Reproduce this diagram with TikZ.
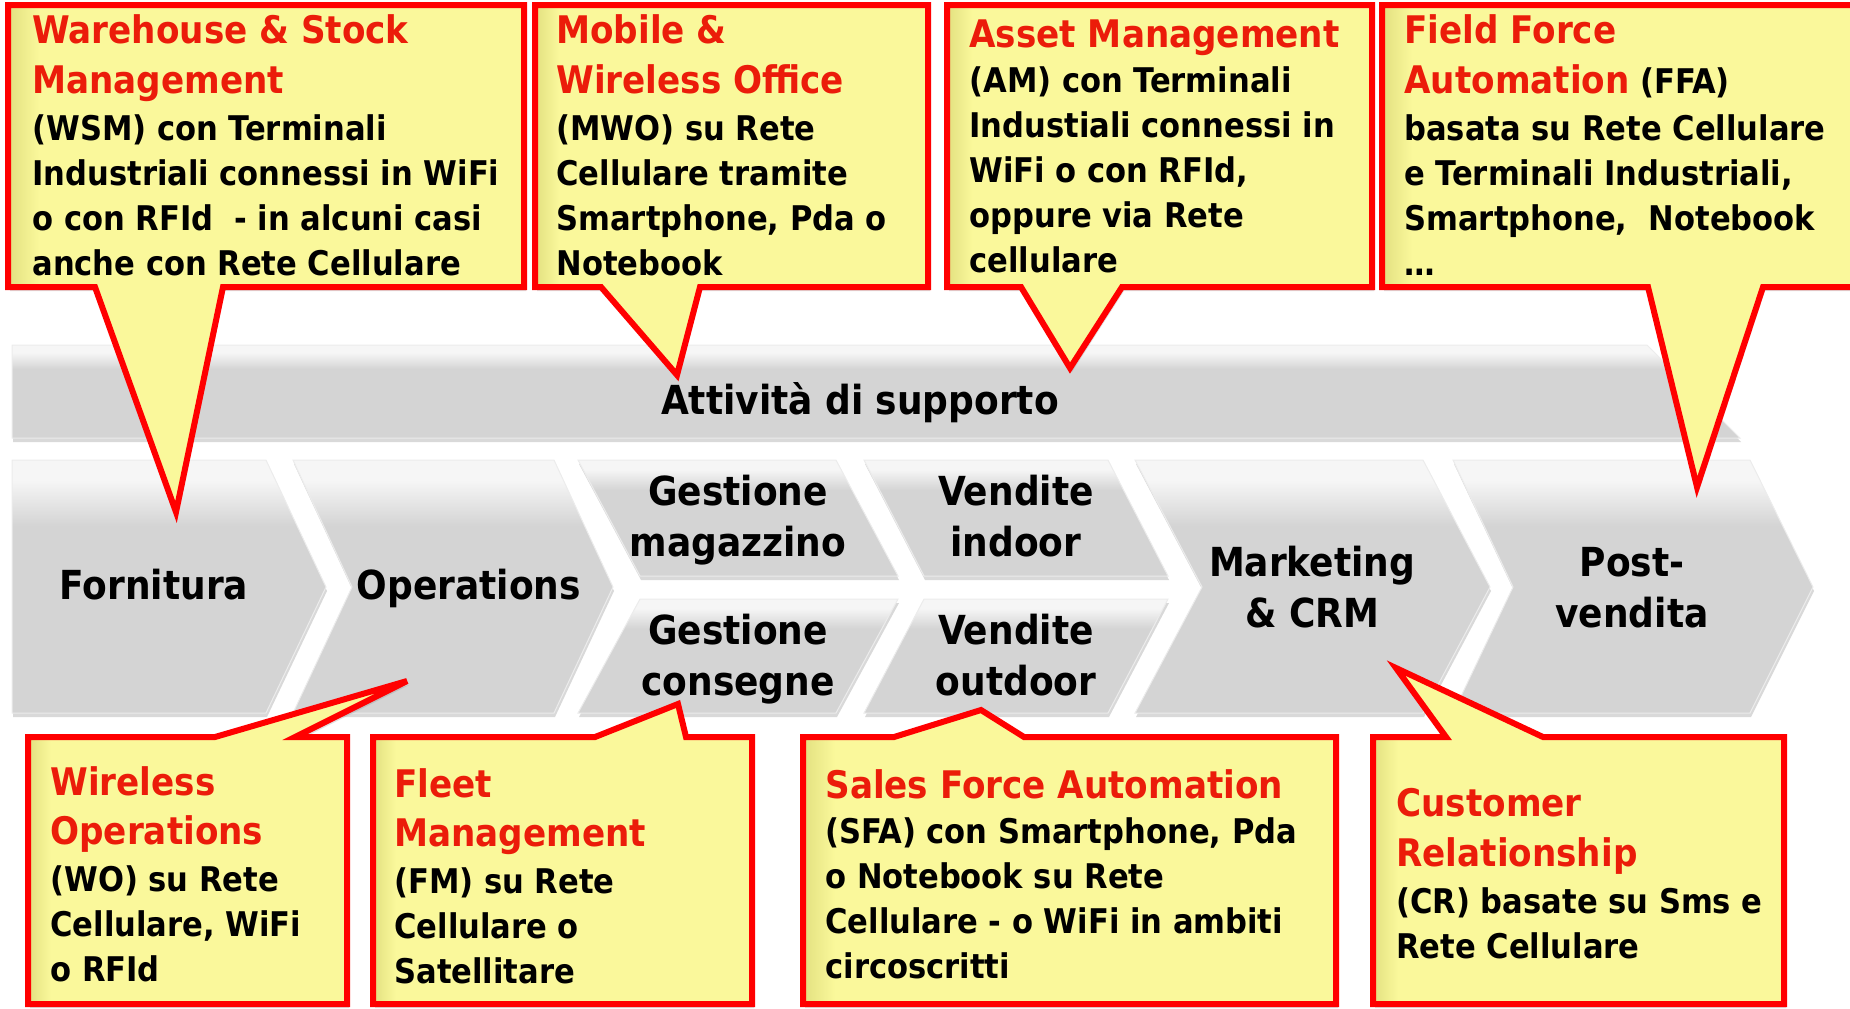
\documentclass[tikz,border=0pt]{standalone}
\usepackage{fontspec}
\setmainfont{DejaVu Sans Condensed}[BoldFont={DejaVu Sans Condensed Bold}]
\RequirePackage{xcolor}
\definecolor{callred}{RGB}{255,0,0}
\definecolor{titlered}{RGB}{235,28,10}
\definecolor{callyellow}{RGB}{250,248,155}
\definecolor{callshade}{RGB}{226,224,128}
\definecolor{chevgray}{RGB}{212,212,212}
\definecolor{chevlight}{RGB}{246,246,246}
\usetikzlibrary{positioning,shadows}
\pgfdeclareverticalshading{chevbevel}{100bp}{color(0bp)=(chevgray); color(62bp)=(chevgray); color(71bp)=(chevlight); color(100bp)=(chevlight)}
\pgfdeclarehorizontalshading{callbevel}{100bp}{color(0bp)=(callshade); color(25bp)=(callshade); color(28bp)=(callyellow); color(100bp)=(callyellow)}
\tikzset{
  chev/.style={shading=chevbevel, draw=white!85!gray, line width=0.5pt,
    drop shadow={opacity=0.3, shadow xshift=0.5pt, shadow yshift=-2pt}},
  chevlabel/.style={anchor=base, align=center, inner sep=0pt,
    font=\fontsize{20pt}{25.5pt}\selectfont\bfseries},
  callout/.style={shading=callbevel, draw=callred, line width=3pt, miter limit=9,
    drop shadow={opacity=0.25, shadow xshift=1pt, shadow yshift=-2pt}},
  calltext/.style={anchor=base west, align=left, inner sep=0pt,
    font=\fontsize{17pt}{22.5pt}\selectfont\bfseries},
}
\newcommand{\calltitle}[1]{{\color{titlered}\fontsize{19pt}{22.5pt}\selectfont #1}}

\begin{document}
\begin{tikzpicture}[x=0.5pt, y=-0.5pt]
  \clip (0,0) rectangle (1850,1008);

  % support activities and value chain
  \path[chev] (12,345) -- (1647,345) -- (1740,438) -- (12,438) -- cycle;
  \path[chev] (12,460) -- (266,460) -- (326,587) -- (266,713) -- (12,713) -- cycle;
  \path[chev] (293,460) -- (554,460) -- (613,587) -- (554,713) -- (293,713) -- (352,587) -- cycle;
  \path[chev] (578,460) -- (836,460) -- (898,576) -- (640,576) -- cycle;
  \path[chev] (640,599) -- (898,599) -- (836,713) -- (578,713) -- cycle;
  \path[chev] (864,460) -- (1108,460) -- (1168,576) -- (924,576) -- cycle;
  \path[chev] (924,599) -- (1168,599) -- (1108,713) -- (864,713) -- cycle;
  \path[chev] (1135,460) -- (1423,460) -- (1490,587) -- (1423,713) -- (1135,713) -- (1202,587) -- cycle;
  \path[chev] (1453,460) -- (1750,460) -- (1813,587) -- (1750,713) -- (1453,713) -- (1513,587) -- cycle;

  % labels sit on the baseline of their last line
  \node[chevlabel] (support) at (860,414) {Attività di supporto};
  \node[chevlabel] (fornitura) at (154,599) {Fornitura};
  \node[chevlabel] (operations) at (469,599) {Operations};
  \node[chevlabel] (magazzino) at (738,556) {Gestione\\magazzino};
  \node[chevlabel] (consegne) at (738,695) {Gestione\\consegne};
  \node[chevlabel] (indoor) at (1016,556) {Vendite\\indoor};
  \node[chevlabel] (outdoor) at (1016,695) {Vendite\\outdoor};
  \node[chevlabel] (marketing) at (1312,627) {Marketing\\\& CRM};
  \node[chevlabel] (postvendita) at (1632,627) {Post-\\vendita};

  % callouts above
  \draw[callout] (8,5) -- (524,5) -- (524,287) -- (223,287) -- (176,512) -- (95,287) -- (8,287) -- cycle;
  \draw[callout] (535,5) -- (928,5) -- (928,287) -- (700,287) -- (677,375) -- (601,287) -- (535,287) -- cycle;
  \draw[callout] (947,5) -- (1372,5) -- (1372,287) -- (1122,287) -- (1070,368) -- (1021,287) -- (947,287) -- cycle;
  \draw[callout] (1382,5) -- (1880,5) -- (1880,287) -- (1763,287) -- (1697,487) -- (1648,287) -- (1382,287) -- cycle;

  % callouts below
  \draw[callout] (28,1004) -- (28,737) -- (215,737) -- (407,681) -- (295,737) -- (347,737) -- (347,1004) -- cycle;
  \draw[callout] (373,1004) -- (373,737) -- (595,737) -- (678,704) -- (686,737) -- (752,737) -- (752,1004) -- cycle;
  \draw[callout] (803,1004) -- (803,737) -- (894,737) -- (981,710) -- (1024,737) -- (1336,737) -- (1336,1004) -- cycle;
  \draw[callout] (1373,1004) -- (1373,737) -- (1446,737) -- (1396,668) -- (1543,737) -- (1784,737) -- (1784,1004) -- cycle;

  \node[calltext] (wsm) at (32,275) {\calltitle{Warehouse \& Stock}\\[2.5pt] \calltitle{Management}\\[1pt] (WSM) con Terminali\\ Industriali connessi in WiFi\\ o con RFId~ - in alcuni casi\\ anche con Rete Cellulare};
  \node[calltext] (mwo) at (556,275) {\calltitle{Mobile \&}\\[2.5pt] \calltitle{Wireless Office}\\[1pt] (MWO) su Rete\\ Cellulare tramite\\ Smartphone, Pda o\\ Notebook};
  \node[calltext] (am) at (969,272) {\calltitle{Asset Management}\\ (AM) con Terminali\\ Industiali connessi in\\ WiFi o con RFId,\\ oppure via Rete\\ cellulare};
  \node[calltext] (ffa) at (1404,275) {\calltitle{Field Force}\\[2.5pt] \calltitle{Automation} (FFA)\\[1pt] basata su Rete Cellulare\\ e Terminali Industriali,\\ Smartphone,~ Notebook\\ …};

  \node[calltext] (wo) at (50,981) {\calltitle{Wireless}\\[2pt] \calltitle{Operations}\\[1pt] (WO) su Rete\\ Cellulare, WiFi\\ o RFId};
  \node[calltext] (fm) at (394,983) {\calltitle{Fleet}\\[2pt] \calltitle{Management}\\[1pt] (FM) su Rete\\ Cellulare o\\ Satellitare};
  \node[calltext] (sfa) at (825,978) {\calltitle{Sales Force Automation}\\ (SFA) con Smartphone, Pda\\ o Notebook su Rete\\ Cellulare - o WiFi in ambiti\\ circoscritti};
  \node[calltext] (cr) at (1396,958) {\calltitle{Customer}\\[2.5pt] \calltitle{Relationship}\\[1pt] (CR) basate su Sms e\\ Rete Cellulare};
\end{tikzpicture}
\end{document}
